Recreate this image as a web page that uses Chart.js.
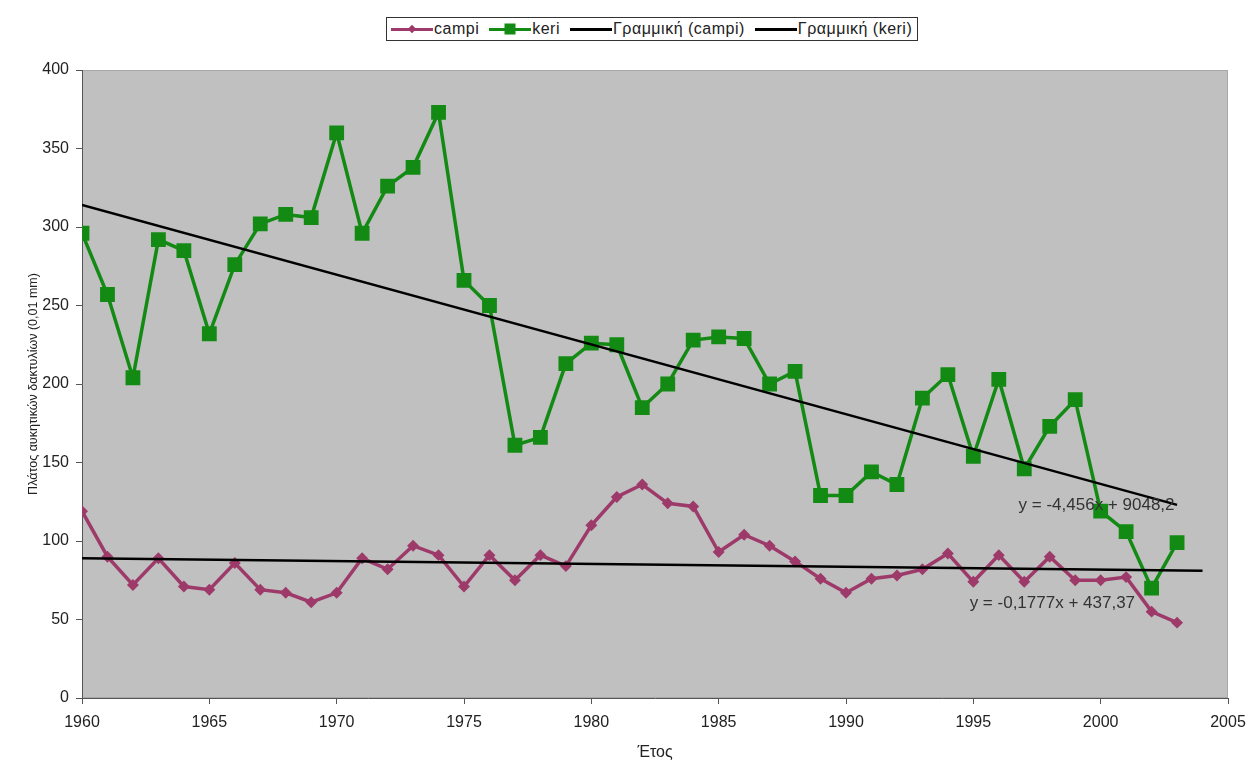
<!DOCTYPE html>
<html>
<head>
<meta charset="utf-8">
<script src="https://cdn.jsdelivr.net/npm/chart.js@4.4.1/dist/chart.umd.min.js"></script>
<style>
  html, body { margin: 0; background: #fff; }
  #wrap { position: relative; width: 1248px; height: 764px; }
  #legend {
    position: absolute; left: 386px; top: 17px; height: 22px;
    border: 1px solid #333; display: flex; align-items: center;
    padding: 0 5px 0 4px; font: 16px 'Liberation Sans', Arial, sans-serif; color: #222;
    letter-spacing: 0.5px; white-space: nowrap; background: #fff;
  }
  .it { display: flex; align-items: center; margin-right: 10px; }
  .it:last-child { margin-right: 0; }
  .ic { position: relative; display: inline-block; width: 42px; height: 12px; margin-right: 1px; }
  .ic::before { content: ''; position: absolute; left: 0; right: 0; top: 5px; height: 3px; background: var(--c); }
  .mk { position: absolute; left: 50%; top: 50%; background: var(--c); }
</style>
</head>
<body>
<div id="wrap">
  <canvas id="c" width="1248" height="764"></canvas>
  <div id="legend"></div>
</div>
<script>
// ---- data ----
const years = [1960, 1961, 1962, 1963, 1964, 1965, 1966, 1967, 1968, 1969,
               1970, 1971, 1972, 1973, 1974, 1975, 1976, 1977, 1978, 1979,
               1980, 1981, 1982, 1983, 1984, 1985, 1986, 1987, 1988, 1989,
               1990, 1991, 1992, 1993, 1994, 1995, 1996, 1997, 1998, 1999,
               2000, 2001, 2002, 2003];
const campi = [119, 90, 72, 89, 71, 69, 86, 69, 67, 61,
               67, 89, 82, 97, 91, 71, 91, 75, 91, 84,
               110, 128, 136, 124, 122, 93, 104, 97, 87, 76,
               67, 76, 78, 82, 92, 74, 91, 74, 90, 75,
               75, 77, 55, 48];
const keri = [296, 257, 204, 292, 285, 232, 276, 302, 308, 306,
              360, 296, 326, 338, 373, 266, 250, 161, 166, 213,
              226, 225, 185, 200, 228, 230, 229, 200, 208, 129,
              129, 144, 136, 191, 206, 154, 203, 146, 173, 190,
              119, 106, 70, 99];
// trend line end points
const trendCampiX = [1960, 2004];
const trendCampiY = [89, 81];
const trendKeriX = [1960, 2003];
const trendKeriY = [314, 123];
const eqKeri = 'y = -4,456x + 9048,2';
const eqCampi = 'y = -0,1777x + 437,37';
const seriesNames = ['campi', 'keri', 'Γραμμική (campi)', 'Γραμμική (keri)'];
const yTitle = 'Πλάτος αυκητικών δακτυλίων (0,01 mm)';
const xTitle = 'Έτος';

const PURPLE = '#9d3a6a';
const GREEN = '#138a13';
const FONT = "'Liberation Sans', Arial, sans-serif";

const pts = (xs, ys) => xs.map((x, i) => ({ x, y: ys[i] }));

// ---- legend (html) ----
const legendDefs = [
  { c: PURPLE, mk: 'width:6px;height:6px;transform:translate(-50%,-50%) rotate(45deg)' },
  { c: GREEN, mk: 'width:11px;height:11px;transform:translate(-50%,-50%)' },
  { c: '#000', mk: null },
  { c: '#000', mk: null }
];
document.getElementById('legend').innerHTML = seriesNames.map((n, i) => {
  const d = legendDefs[i];
  return `<span class="it"><span class="ic" style="--c:${d.c}">${d.mk ? `<span class="mk" style="${d.mk}"></span>` : ''}</span>${n}</span>`;
}).join('');

const plotBg = {
  id: 'plotBg',
  beforeDraw(chart) {
    const { ctx, chartArea: a } = chart;
    ctx.save();
    ctx.fillStyle = '#c0c0c0';
    ctx.fillRect(a.left, a.top, a.right - a.left, a.bottom - a.top);
    ctx.strokeStyle = '#a8a8a8';
    ctx.lineWidth = 1;
    ctx.strokeRect(a.left + 0.5, a.top + 0.5, a.right - a.left - 1, a.bottom - a.top - 1);
    ctx.restore();
  }
};

const eqLabels = {
  id: 'eqLabels',
  afterDatasetsDraw(chart) {
    const { ctx, scales: { x, y } } = chart;
    ctx.save();
    ctx.font = '17px ' + FONT;
    ctx.fillStyle = '#333';
    ctx.textAlign = 'right';
    ctx.textBaseline = 'middle';
    ctx.fillText(eqKeri, x.getPixelForValue(2002.9), y.getPixelForValue(123));
    ctx.fillText(eqCampi, x.getPixelForValue(2001.35), y.getPixelForValue(60));
    ctx.restore();
  }
};

new Chart(document.getElementById('c'), {
  type: 'line',
  data: {
    datasets: [
      {
        label: seriesNames[0], data: pts(years, campi), order: 1,
        borderColor: PURPLE, backgroundColor: PURPLE, borderWidth: 3.5,
        pointStyle: 'rectRot', pointRadius: 3.5, tension: 0
      },
      {
        label: seriesNames[1], data: pts(years, keri), order: 1,
        borderColor: GREEN, backgroundColor: GREEN, borderWidth: 3.5,
        pointStyle: 'rect', pointRadius: 8, tension: 0
      },
      {
        label: seriesNames[2], data: pts(trendCampiX, trendCampiY), order: 0,
        borderColor: '#000', borderWidth: 2.5, pointRadius: 0
      },
      {
        label: seriesNames[3], data: pts(trendKeriX, trendKeriY), order: 0,
        borderColor: '#000', borderWidth: 2.5, pointRadius: 0
      }
    ]
  },
  options: {
    responsive: false, animation: false,
    layout: { padding: { top: 70, right: 20, left: 0, bottom: 0 } },
    plugins: { legend: { display: false }, tooltip: { enabled: false } },
    scales: {
      x: {
        type: 'linear', min: 1960, max: 2005,
        border: { color: '#555', width: 1 },
        grid: { drawOnChartArea: false, color: '#555', tickLength: 6 },
        ticks: { stepSize: 5, color: '#222', font: { family: FONT, size: 16 }, padding: 9, maxRotation: 0,
                 callback: v => String(v) },
        title: { display: true, text: xTitle, color: '#222', font: { family: FONT, size: 16 }, padding: { top: 0, bottom: 2 } },
        afterFit: s => { s.height = 66; s.paddingLeft = 0; s.paddingRight = 0; }
      },
      y: {
        min: 0, max: 400,
        border: { color: '#555', width: 1 },
        grid: { drawOnChartArea: false, color: '#555', tickLength: 6 },
        ticks: { stepSize: 50, color: '#222', font: { family: FONT, size: 16 }, padding: 7 },
        title: { display: true, text: yTitle, color: '#222', font: { family: FONT, size: 12.5 }, padding: { top: 26, bottom: 0 } },
        afterFit: s => { s.width = 82; }
      }
    }
  },
  plugins: [plotBg, eqLabels]
});
</script>
</body>
</html>
